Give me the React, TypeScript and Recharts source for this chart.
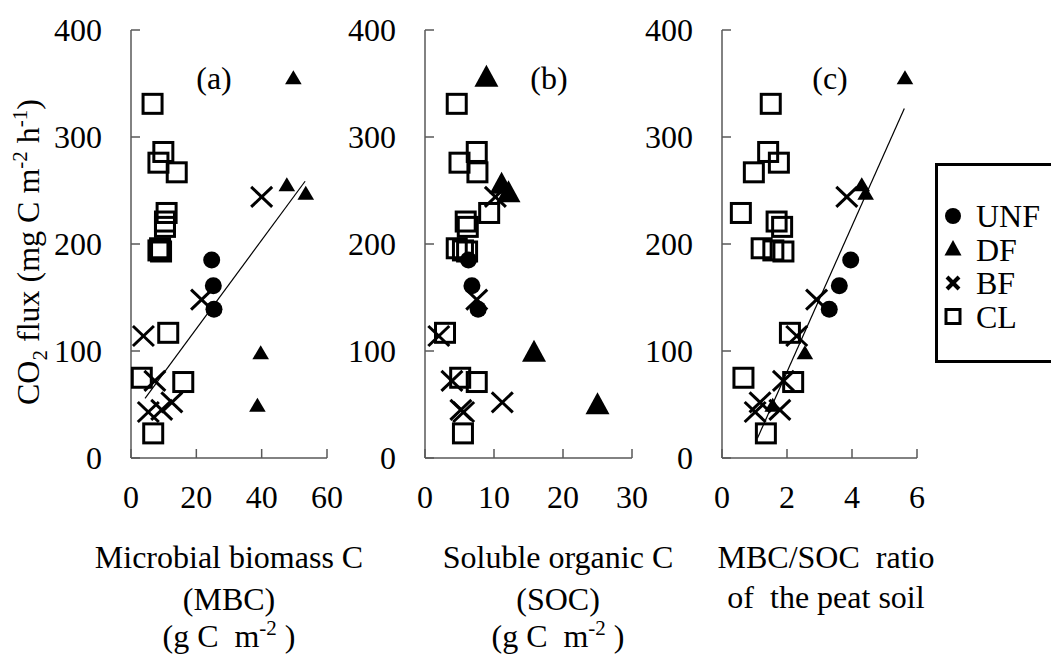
import React from 'react';
import { ScatterChart, Scatter, XAxis, YAxis, ReferenceLine } from 'recharts';

const FONT = "'Liberation Serif', 'Times New Roman', Times, 'DejaVu Serif', serif";
const AXIS = '#595959';
const PLOT_TOP = 30;
const PLOT_BOTTOM = 458;

const groups = ['UNF', 'DF', 'BF', 'CL'] as const;
type Group = (typeof groups)[number];

// CO2 flux (mg C m-2 h-1)
const fluxUNF = [185, 161, 139];
const fluxDF = [354, 254, 246, 97, 48];
const fluxBF = [244, 148, 114, 72, 52, 43, 45];
const fluxCL = [331, 286, 276, 267, 229, 221, 216, 196, 194, 193, 117, 75, 71, 23];

// microbial biomass C (g C m-2)
const mbcUNF = [24.7, 25.2, 25.4];
const mbcDF = [49.7, 47.7, 53.5, 39.7, 38.7];
const mbcBF = [40, 21.6, 3.8, 7.3, 12.5, 5.3, 9.4];
const mbcCL = [6.6, 9.9, 8.4, 14, 10.9, 10.4, 10.4, 8.9, 8.4, 9.2, 11.4, 3.3, 16, 6.8];

// soluble organic C (g C m-2)
const socUNF = [6.3, 6.8, 7.7];
const socDF = [8.9, 11.1, 12.1, 15.8, 25];
const socBF = [10.2, 7.5, 2.0, 3.9, 11.2, 5.6, 5.2];
const socCL = [4.6, 7.5, 5.0, 7.6, 9.3, 5.9, 6.2, 4.6, 5.5, 6.1, 2.9, 5.1, 7.5, 5.5];

// MBC/SOC ratio
const ratioUNF = [3.96, 3.61, 3.3];
const ratioDF = [5.63, 4.3, 4.42, 2.55, 1.56];
const ratioBF = [3.84, 2.91, 2.3, 1.89, 1.17, 1.02, 1.78];
const ratioCL = [1.5, 1.42, 1.75, 0.98, 0.58, 1.68, 1.85, 1.22, 1.58, 1.89, 2.09, 0.66, 2.19, 1.35];

const fluxTicks = [0, 100, 200, 300, 400];
const mbcTicks = [0, 20, 40, 60];
const socTicks = [0, 10, 20, 30];
const ratioTicks = [0, 2, 4, 6];

// fitted lines in panels (a) and (c)
const fitMBC = { slope: 4.14, intercept: 38, from: 4.3, to: 53.3 };
const fitRatio = { slope: 68.2, intercept: -55.9, from: 1.09, to: 5.61 };

const fluxOf: Record<Group, number[]> = { UNF: fluxUNF, DF: fluxDF, BF: fluxBF, CL: fluxCL };

type Fit = { slope: number; intercept: number; from: number; to: number };

function Marker({ kind, cx, cy, bigTri }: { kind: Group; cx: number; cy: number; bigTri?: boolean }) {
  if (kind === 'UNF') return <circle cx={cx} cy={cy} r={8.5} fill="#000" />;
  if (kind === 'DF') {
    const w = bigTri ? 12 : 8.3;
    const up = bigTri ? 14.5 : 9;
    const down = bigTri ? 7.5 : 5;
    return <polygon points={`${cx},${cy - up} ${cx - w},${cy + down} ${cx + w},${cy + down}`} fill="#000" />;
  }
  if (kind === 'BF') {
    return (
      <g stroke="#000" strokeWidth={3}>
        <line x1={cx - 10.5} y1={cy - 10} x2={cx + 10.5} y2={cy + 10} />
        <line x1={cx - 10.5} y1={cy + 10} x2={cx + 10.5} y2={cy - 10} />
      </g>
    );
  }
  return <rect x={cx - 9.5} y={cy - 9.5} width={19} height={19} fill="none" stroke="#000" strokeWidth={3} />;
}

const makeYTick = (axisX: number) => (props: any) => {
  const { y, payload } = props;
  return (
    <g>
      <line x1={axisX} x2={axisX + 9} y1={y} y2={y} stroke={AXIS} strokeWidth={1.5} />
      <text x={axisX - 29} y={y} textAnchor="end" dominantBaseline="central" style={textStyle}>
        {payload.value}
      </text>
    </g>
  );
};

const makeXTick = (axisY: number) => (props: any) => {
  const { x, payload } = props;
  return (
    <g>
      <line x1={x} x2={x} y1={axisY} y2={axisY - 9} stroke={AXIS} strokeWidth={1.5} />
      <text x={x} y={axisY + 50} textAnchor="middle" style={textStyle}>
        {payload.value}
      </text>
    </g>
  );
};

interface PanelProps {
  left: number;
  width: number;
  yWidth: number;
  right: number;
  domain: [number, number];
  ticks: number[];
  xs: Record<Group, number[]>;
  bigTri?: boolean;
  fit?: Fit;
}

function Panel({ left, width, yWidth, right, domain, ticks, xs, bigTri, fit }: PanelProps) {
  return (
    <div style={{ position: 'absolute', left, top: 0 }}>
      <ScatterChart width={width} height={654} margin={{ top: PLOT_TOP, right, bottom: 0, left: 0 }}>
        <XAxis
          type="number"
          dataKey="x"
          domain={domain}
          ticks={ticks}
          interval={0}
          height={654 - PLOT_BOTTOM}
          axisLine={{ stroke: AXIS, strokeWidth: 1.5 }}
          tickLine={false}
          tick={makeXTick(PLOT_BOTTOM)}
          allowDataOverflow
        />
        <YAxis
          type="number"
          dataKey="y"
          domain={[0, 400]}
          ticks={fluxTicks}
          interval={0}
          width={yWidth}
          axisLine={{ stroke: AXIS, strokeWidth: 1.5 }}
          tickLine={false}
          tick={makeYTick(yWidth)}
          allowDataOverflow
        />
        {fit && (
          <ReferenceLine
            segment={[
              { x: fit.from, y: fit.slope * fit.from + fit.intercept },
              { x: fit.to, y: fit.slope * fit.to + fit.intercept },
            ]}
            stroke="#000"
            strokeWidth={1.2}
            ifOverflow="visible"
          />
        )}
        {groups.map((g) => (
          <Scatter
            key={g}
            name={g}
            data={xs[g].map((x, i) => ({ x, y: fluxOf[g][i] }))}
            isAnimationActive={false}
            shape={(p: any) => <Marker kind={g} cx={p.cx} cy={p.cy} bigTri={bigTri} />}
          />
        ))}
      </ScatterChart>
    </div>
  );
}

const textStyle = { fontFamily: FONT, fontSize: 32, fill: '#000', whiteSpace: 'pre' } as React.CSSProperties;

function Unit({ x, y }: { x: number; y: number }) {
  return (
    <text x={x} y={y} textAnchor="middle" style={textStyle}>
      {'(g C  m'}
      <tspan fontSize={21} dy={-12}>-2</tspan>
      <tspan dy={12}>{' )'}</tspan>
    </text>
  );
}

function Overlay() {
  return (
    <svg width={1051} height={654} style={{ position: 'absolute', left: 0, top: 0 }}>
      <text transform="rotate(-90, 39, 252)" x={39} y={252} textAnchor="middle" style={textStyle}>
        {'CO'}
        <tspan fontSize={21} dy={8}>2</tspan>
        <tspan dy={-8}>{' flux (mg C m'}</tspan>
        <tspan fontSize={21} dy={-12}>-2</tspan>
        <tspan dy={12}>{' h'}</tspan>
        <tspan fontSize={21} dy={-12}>-1</tspan>
        <tspan dy={12}>)</tspan>
      </text>

      <text x={214} y={89} textAnchor="middle" style={textStyle}>(a)</text>
      <text x={549} y={89} textAnchor="middle" style={textStyle}>(b)</text>
      <text x={830} y={89} textAnchor="middle" style={textStyle}>(c)</text>

      <text x={229} y={568} textAnchor="middle" style={textStyle}>Microbial biomass C</text>
      <text x={229} y={610} textAnchor="middle" style={textStyle}>(MBC)</text>
      <Unit x={229} y={647} />

      <text x={558} y={568} textAnchor="middle" style={textStyle}>Soluble organic C</text>
      <text x={558} y={610} textAnchor="middle" style={textStyle}>(SOC)</text>
      <Unit x={558} y={647} />

      <text x={826} y={568} textAnchor="middle" style={textStyle}>{'MBC/SOC  ratio'}</text>
      <text x={826} y={608} textAnchor="middle" style={textStyle}>{'of  the peat soil'}</text>

      <rect x={936.5} y={164.5} width={150} height={197} fill="#fff" stroke="#000" strokeWidth={3} />
      {groups.map((g, i) => {
        const cy = 216 + i * 33.5;
        return (
          <g key={g}>
            {g === 'UNF' && <circle cx={953} cy={cy} r={8} fill="#000" />}
            {g === 'DF' && <polygon points={`953,${cy - 9.5} 944.5,${cy + 6} 961.5,${cy + 6}`} fill="#000" />}
            {g === 'BF' && (
              <g stroke="#000" strokeWidth={4}>
                <line x1={947} y1={cy - 6} x2={959} y2={cy + 6} />
                <line x1={947} y1={cy + 6} x2={959} y2={cy - 6} />
              </g>
            )}
            {g === 'CL' && <rect x={946} y={cy - 7} width={14} height={14} fill="none" stroke="#000" strokeWidth={3} />}
            <text x={976} y={cy + 11} style={textStyle}>{g}</text>
          </g>
        );
      })}
    </svg>
  );
}

export default function App() {
  return (
    <div style={{ position: 'absolute', left: 0, top: 0, width: 1051, height: 654, overflow: 'hidden', background: '#fff' }}>
      <Overlay />
      <Panel
        left={0}
        width={360}
        yWidth={131}
        right={33}
        domain={[0, 60]}
        ticks={mbcTicks}
        xs={{ UNF: mbcUNF, DF: mbcDF, BF: mbcBF, CL: mbcCL }}
        fit={fitMBC}
      />
      <Panel
        left={330}
        width={360}
        yWidth={95}
        right={58}
        domain={[0, 30]}
        ticks={socTicks}
        xs={{ UNF: socUNF, DF: socDF, BF: socBF, CL: socCL }}
        bigTri
      />
      <Panel
        left={640}
        width={320}
        yWidth={82}
        right={43}
        domain={[0, 6]}
        ticks={ratioTicks}
        xs={{ UNF: ratioUNF, DF: ratioDF, BF: ratioBF, CL: ratioCL }}
        fit={fitRatio}
      />
    </div>
  );
}
